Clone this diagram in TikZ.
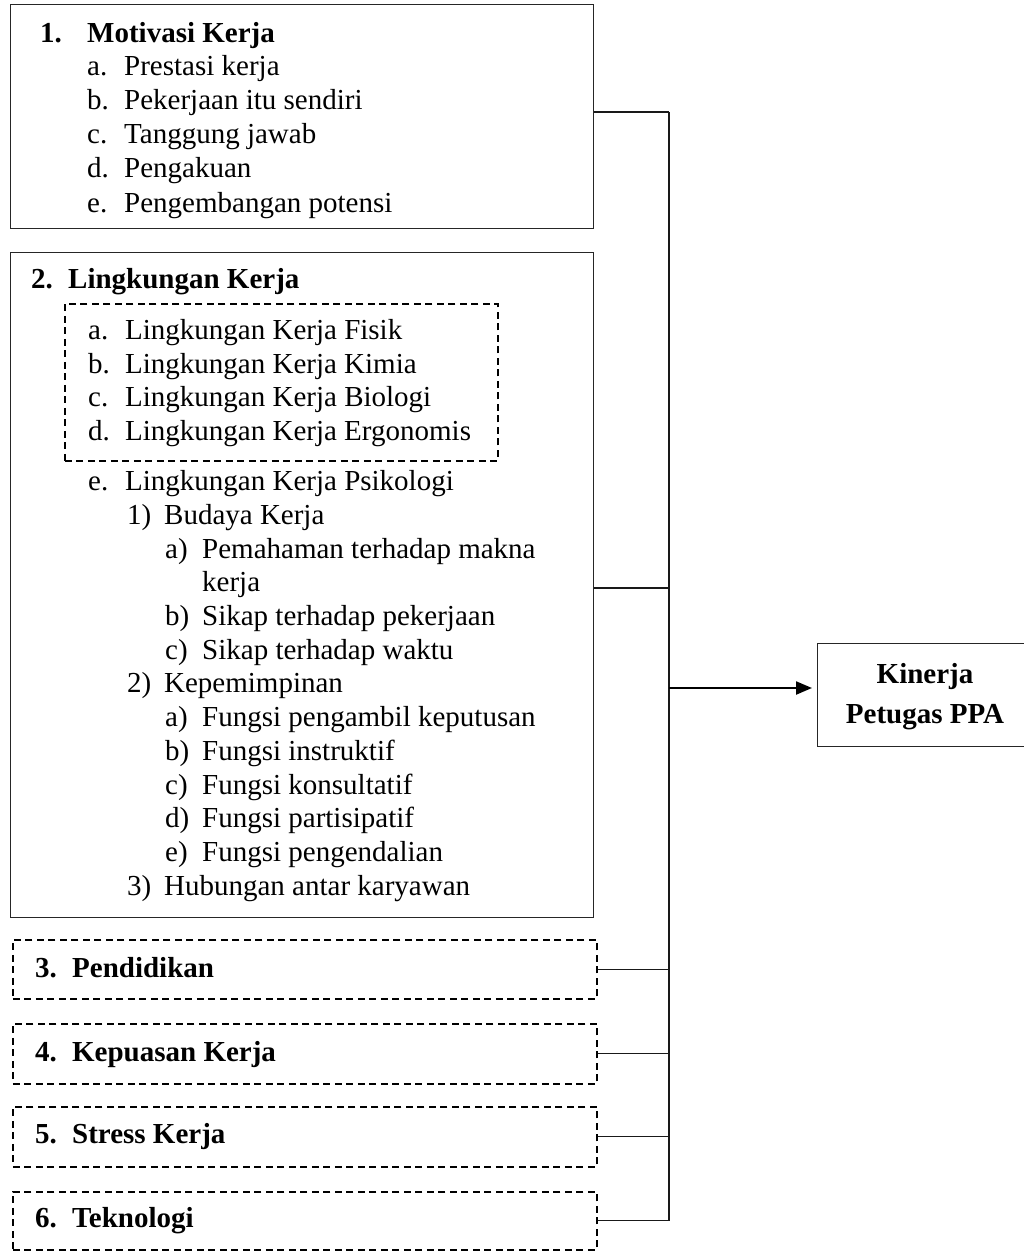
\documentclass[tikz,border=0pt]{standalone}
\usepackage{fontspec}
\setmainfont{Liberation Serif}
\usetikzlibrary{arrows.meta}
\newcommand\lline[5]{\node[txt] (#1) at (#2,#3) {\makebox[37pt][l]{#4}#5};}
\begin{document}
\begin{tikzpicture}[x=1pt,y=-1pt,
  txt/.style={inner sep=0pt,anchor=base west,font=\fontsize{29}{33.7}\selectfont},
  hd/.style={txt,font=\fontsize{29}{33.7}\selectfont\bfseries},
  solidbox/.style={draw=black!85,line width=1.3pt,anchor=north west,inner sep=0pt},
  dashbox/.style={draw=black,line width=1.6pt,dash pattern=on 7pt off 4.5pt,anchor=north west,inner sep=0pt},
  link/.style={draw=black!90,line width=1.1pt},
  arrowlink/.style={draw=black,line width=2.2pt,-{Triangle[length=16pt,width=13pt]},shorten >=5pt}]
\useasboundingbox (0,0) rectangle (1024,1252);

% factor boxes
\node[solidbox,minimum width=583pt,minimum height=224pt] (mot) at (10,4) {};
\node[solidbox,minimum width=583pt,minimum height=665pt] (lk) at (10,252) {};
\node[dashbox,minimum width=433pt,minimum height=157pt] (fis) at (64,303) {};
\node[dashbox,minimum width=584pt,minimum height=59pt] (pend) at (12,939) {};
\node[dashbox,minimum width=584pt,minimum height=60pt] (kep) at (12,1023) {};
\node[dashbox,minimum width=584pt,minimum height=60pt] (str) at (12,1106) {};
\node[dashbox,minimum width=584pt,minimum height=58pt] (tek) at (12,1191) {};
\node[solidbox,minimum width=216pt,minimum height=103pt] (kin) at (817,643) {};

% 1. Motivasi Kerja
\node[hd] (t1) at (40,43) {\makebox[47pt][l]{1.}Motivasi Kerja};
\lline{m1}{87}{76}{a.}{Prestasi kerja}
\lline{m2}{87}{110}{b.}{Pekerjaan itu sendiri}
\lline{m3}{87}{144}{c.}{Tanggung jawab}
\lline{m4}{87}{178}{d.}{Pengakuan}
\lline{m5}{87}{212}{e.}{Pengembangan potensi}

% 2. Lingkungan Kerja
\node[hd] (t2) at (31,288) {\makebox[37pt][l]{2.}Lingkungan Kerja};
\lline{l1}{88}{339}{a.}{Lingkungan Kerja Fisik}
\lline{l2}{88}{373}{b.}{Lingkungan Kerja Kimia}
\lline{l3}{88}{406}{c.}{Lingkungan Kerja Biologi}
\lline{l4}{88}{440}{d.}{Lingkungan Kerja Ergonomis}
\lline{l5}{88}{490}{e.}{Lingkungan Kerja Psikologi}
\lline{p1}{127}{524}{1)}{Budaya Kerja}
\lline{p1a}{165}{558}{a)}{Pemahaman terhadap makna}
\node[txt] (p1a2) at (202,591) {kerja};
\lline{p1b}{165}{625}{b)}{Sikap terhadap pekerjaan}
\lline{p1c}{165}{659}{c)}{Sikap terhadap waktu}
\lline{p2}{127}{692}{2)}{Kepemimpinan}
\lline{p2a}{165}{726}{a)}{Fungsi pengambil keputusan}
\lline{p2b}{165}{760}{b)}{Fungsi instruktif}
\lline{p2c}{165}{794}{c)}{Fungsi konsultatif}
\lline{p2d}{165}{827}{d)}{Fungsi partisipatif}
\lline{p2e}{165}{861}{e)}{Fungsi pengendalian}
\lline{p3}{127}{895}{3)}{Hubungan antar karyawan}

% 3.-6.
\node[hd] (t3) at (35,977) {\makebox[37pt][l]{3.}Pendidikan};
\node[hd] (t4) at (35,1061) {\makebox[37pt][l]{4.}Kepuasan Kerja};
\node[hd] (t5) at (35,1143) {\makebox[37pt][l]{5.}Stress Kerja};
\node[hd] (t6) at (35,1227) {\makebox[37pt][l]{6.}Teknologi};

% outcome
\node[hd,anchor=base] (k1) at (925,683) {Kinerja};
\node[hd,anchor=base] (k2) at (925,723) {Petugas PPA};

% connectors
\coordinate (j1) at (669,112);
\coordinate (j2) at (669,588);
\coordinate (ja) at (669,688);
\draw[link] (mot.east |- j1) -- (j1);
\draw[link] (lk.east |- j2) -- (j2);
\draw[link] (pend.east) -- (pend.east -| j1);
\draw[link] (kep.east) -- (kep.east -| j1);
\draw[link] (str.east) -- (str.east -| j1);
\draw[link] (tek.east) -- (tek.east -| j1);
\draw[link] (j1) -- (tek.east -| j1);
\draw[arrowlink] (ja) -- (kin.west |- ja);
\end{tikzpicture}
\end{document}
